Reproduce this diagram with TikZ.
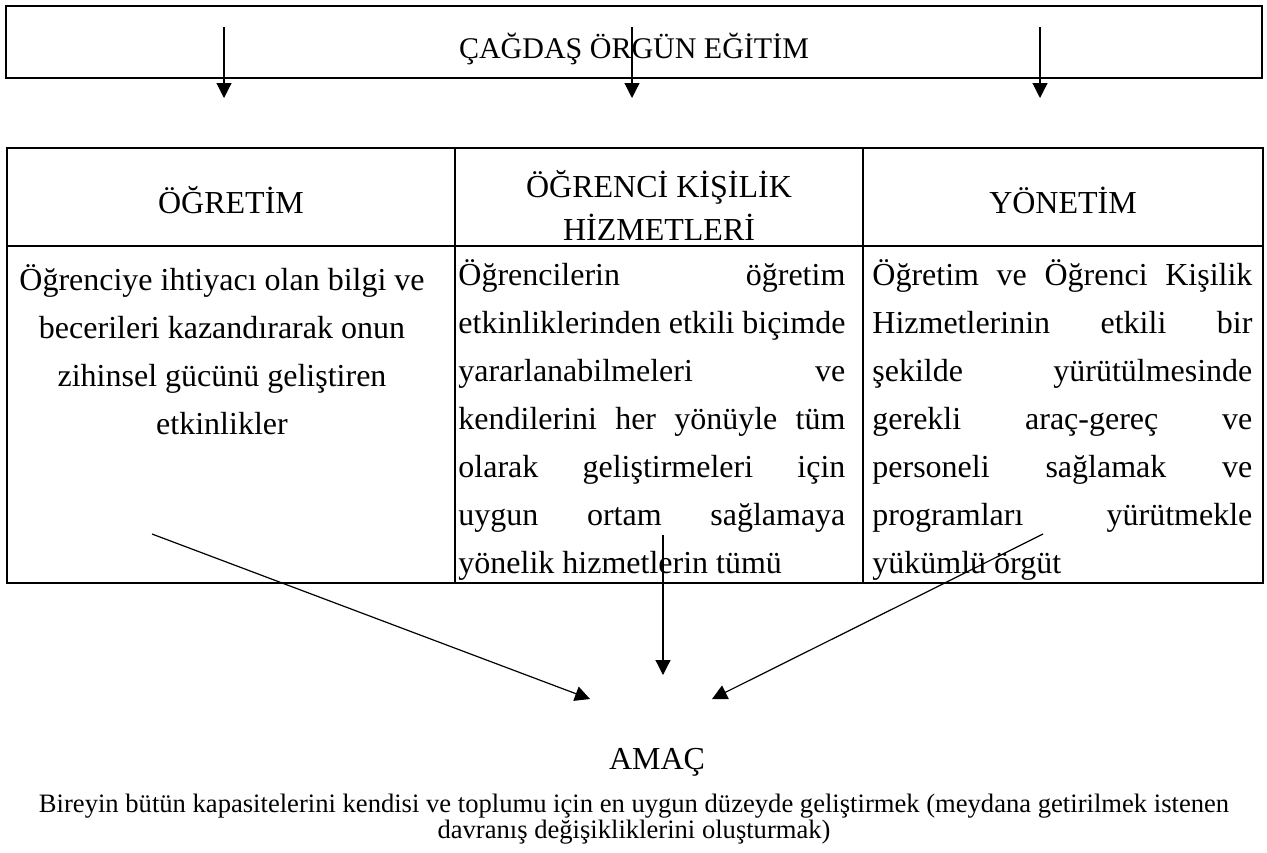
\documentclass[tikz,border=0pt]{standalone}
\usepackage{fontspec}
\setmainfont{Liberation Serif}
\usetikzlibrary{arrows.meta}

\begin{document}
\begin{tikzpicture}[x=0.5pt,y=-0.5pt]
	
	% INPUTS
	
	\newcommand{\linegap}{48}				% distance between two text lines of the table
	\newcommand{\firstline}{285}			% baseline of the first body line
	\newcommand{\colone}{455}				% first column separator
	\newcommand{\coltwo}{863}				% second column separator
	
	% styles
	\tikzstyle{frame}=[line width=1pt];
	\tikzstyle{thin frame}=[line width=0.6pt];
	\tikzstyle{txt}=[inner sep=0pt,font=\fontsize{16}{24}\selectfont];
	\tikzstyle{title txt}=[inner sep=0pt,font=\fontsize{15}{18}\selectfont];
	\tikzstyle{small txt}=[inner sep=0pt,font=\fontsize{13.3}{16}\selectfont];
	\tikzstyle{link}=[line width=0.6pt,-{Triangle[length=7.5pt,width=7.5pt]}];
	
	\useasboundingbox (0,0) rectangle (1267,852);
	
	% upper box and its name
	\draw[style=frame] (6,6) rectangle (1262,78);
	\node[style=title txt,anchor=base] (egitim) at (634,58) {ÇAĞDAŞ ÖRGÜN EĞİTİM};
	
	% the three arrows leaving the upper box
	\foreach \x [count=\i] in {224,632,1040} {
		\coordinate (top\i) at (\x,27);
		\coordinate (head\i) at (\x,98);
		\draw[style=link] (top\i) -- (head\i);
	}
	
	% the table
	\draw[style=frame] (7,148) rectangle (1263,583);
	\draw[style=frame] (7,246) -- (1263,246);
	\draw[style=thin frame] (\colone,148) -- (\colone,583);
	\draw[style=thin frame] (\coltwo,148) -- (\coltwo,583);
	
	% header row
	\node[style=txt,anchor=base] (ogretim) at (231,213) {ÖĞRETİM};
	\node[style=txt,anchor=base] (kisilik) at (659,197) {ÖĞRENCİ KİŞİLİK};
	\node[style=txt,anchor=base] (hizmet) at (659,240) {HİZMETLERİ};
	\node[style=txt,anchor=base] (yonetim) at (1063,213) {YÖNETİM};
	
	% first column, centred lines
	\foreach \t [count=\i] in {Öğrenciye ihtiyacı olan bilgi ve, becerileri kazandırarak onun, zihinsel gücünü geliştiren, etkinlikler}
		\node[style=txt,anchor=base] (bir\i) at (222,{290+\linegap*(\i-1)}) {\t};
	
	% second column, justified lines
	\foreach \t [count=\i] in {Öğrencilerin öğretim, etkinliklerinden etkili biçimde, yararlanabilmeleri ve, kendilerini her yönüyle tüm, olarak geliştirmeleri için, uygun ortam sağlamaya}
		\node[style=txt,anchor=base west] (iki\i) at (458,{\firstline+\linegap*(\i-1)}) {\makebox[193.5pt][s]{\t}};
	\node[style=txt,anchor=base west] (iki7) at (458,{\firstline+\linegap*6}) {yönelik hizmetlerin tümü};
	
	% third column, justified lines
	\foreach \t [count=\i] in {Öğretim ve Öğrenci Kişilik, Hizmetlerinin etkili bir, şekilde yürütülmesinde, gerekli araç-gereç ve, personeli sağlamak ve, programları yürütmekle}
		\node[style=txt,anchor=base west] (uc\i) at (872,{\firstline+\linegap*(\i-1)}) {\makebox[190pt][s]{\t}};
	\node[style=txt,anchor=base west] (uc7) at (872,{\firstline+\linegap*6}) {yükümlü örgüt};
	
	% arrows towards the aim
	\coordinate (from1) at (152,534);
	\coordinate (to1) at (590,699);
	\coordinate (from2) at (663,535);
	\coordinate (to2) at (663,675);
	\coordinate (from3) at (1043,534);
	\coordinate (to3) at (712,699);
	\foreach \i in {1,2,3}
		\draw[style=link] (from\i) -- (to\i);
	
	% the aim
	\node[style=txt,anchor=base] (amac) at (657,769) {AMAÇ};
	\node[style=small txt,anchor=base] (hedef1) at (634,812) {Bireyin bütün kapasitelerini kendisi ve toplumu için en uygun düzeyde geliştirmek (meydana getirilmek istenen};
	\node[style=small txt,anchor=base] (hedef2) at (634,838) {davranış değişikliklerini oluşturmak)};
	
\end{tikzpicture}
\end{document}
